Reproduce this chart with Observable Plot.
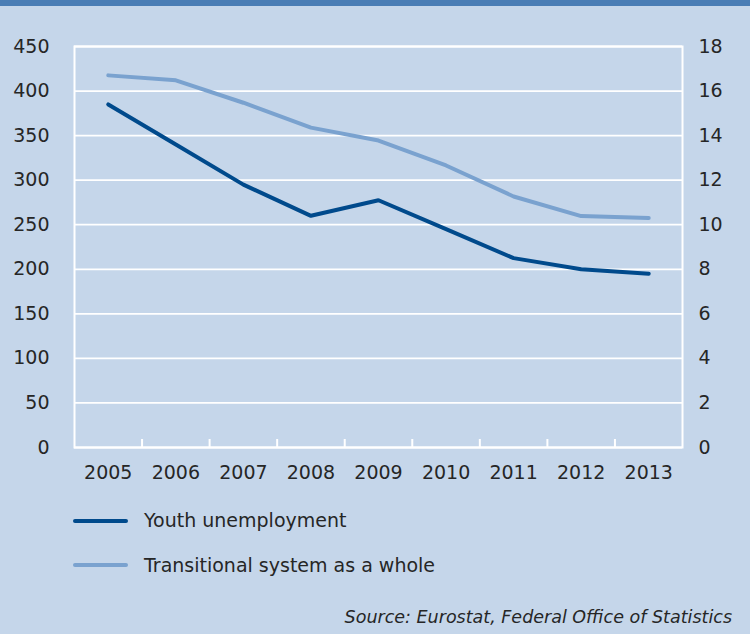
<!DOCTYPE html>
<html>
<head>
<meta charset="utf-8">
<script src="https://cdn.jsdelivr.net/npm/d3@7"></script>
<script src="https://cdn.jsdelivr.net/npm/@observablehq/plot@0.6"></script>
<style>
  html, body { margin: 0; padding: 0; background: #c5d6ea; }
  #wrap { position: relative; width: 750px; height: 634px; background: #c5d6ea; overflow: hidden;
          font-family: "DejaVu Sans", Verdana, sans-serif; color: #262626; }
  #topbar { position: absolute; left: 0; top: 0; width: 750px; height: 6px; background: #4a7db5; }
  #chart { position: absolute; left: 0; top: 6px; }
  .leg { position: absolute; left: 0; font-size: 19px; }
  .leg .sw { position: absolute; left: 73px; width: 55px; height: 4px; border-radius: 2px; }
  .leg .lb { position: absolute; left: 144px; white-space: nowrap; line-height: 1; }
  #source { position: absolute; right: 18px; top: 607px; font-size: 17.5px; font-style: italic; white-space: nowrap; }
</style>
</head>
<body>
<div id="wrap">
  <div id="topbar"></div>
  <div id="chart"></div>
  <div class="leg" style="top:0"><div class="sw" id="sw1" style="top:519px"></div><div class="lb" id="lb1" style="top:511px"></div></div>
  <div class="leg" style="top:0"><div class="sw" id="sw2" style="top:563px"></div><div class="lb" id="lb2" style="top:556px"></div></div>
  <div id="source">Source: Eurostat, Federal Office of Statistics</div>
</div>
<script>
const years = [2005, 2006, 2007, 2008, 2009, 2010, 2011, 2012, 2013];
// Youth unemployment rate (%), right axis
const youthUnemployment = [15.4, 13.6, 11.8, 10.4, 11.1, 9.8, 8.5, 8.0, 7.8];
// Transitional system entrants (thousands), left axis
const transitionalSystem = [417.6, 412.1, 386.9, 359.0, 344.5, 316.5, 281.7, 259.7, 257.6];
const leftTicks = [0, 50, 100, 150, 200, 250, 300, 350, 400, 450];
const seriesNames = ["Youth unemployment", "Transitional system as a whole"];
const seriesColors = ["#004a8c", "#7aa2cf"];
const ratio = 450 / 18;

const boundaries = years.slice(1).map(y => y - 0.5);
const youthData = years.map((y, i) => ({year: y, value: youthUnemployment[i]}));
const transData = years.map((y, i) => ({year: y, value: transitionalSystem[i]}));

const plot = Plot.plot({
  width: 750,
  height: 490,
  marginTop: 40,
  marginBottom: 49,
  marginLeft: 74,
  marginRight: 68,
  style: {background: "transparent", fontFamily: "'DejaVu Sans', Verdana, sans-serif", fontSize: "19px", color: "#262626"},
  x: {type: "linear", domain: [2004.5, 2013.5]},
  y: {domain: [0, 450]},
  marks: [
    Plot.ruleY(leftTicks, {stroke: "white", strokeWidth: 1.8}),
    Plot.frame({stroke: "white", strokeWidth: 2}),
    Plot.ruleX(boundaries, {y1: 0, y2: 0, insetTop: -8, stroke: "white", strokeWidth: 2}),
    Plot.axisY({anchor: "left", ticks: leftTicks, tickSize: 0, tickPadding: 25, label: null, tickFormat: d => String(d), fill: "#262626"}),
    Plot.axisY({anchor: "right", ticks: leftTicks, tickSize: 0, tickPadding: 16, label: null, tickFormat: d => String(d / ratio), fill: "#262626"}),
    Plot.axisX({ticks: years, tickSize: 0, tickPadding: 18, label: null, tickFormat: d => String(d), fill: "#262626"}),
    Plot.line(transData, {x: "year", y: "value", stroke: seriesColors[1], strokeWidth: 4, strokeLinejoin: "miter"}),
    Plot.line(youthData, {x: "year", y: d => d.value * ratio, stroke: seriesColors[0], strokeWidth: 4, strokeLinejoin: "miter"})
  ]
});
document.getElementById("chart").appendChild(plot);
document.getElementById("sw1").style.background = seriesColors[0];
document.getElementById("sw2").style.background = seriesColors[1];
document.getElementById("lb1").textContent = seriesNames[0];
document.getElementById("lb2").textContent = seriesNames[1];
</script>
</body>
</html>
